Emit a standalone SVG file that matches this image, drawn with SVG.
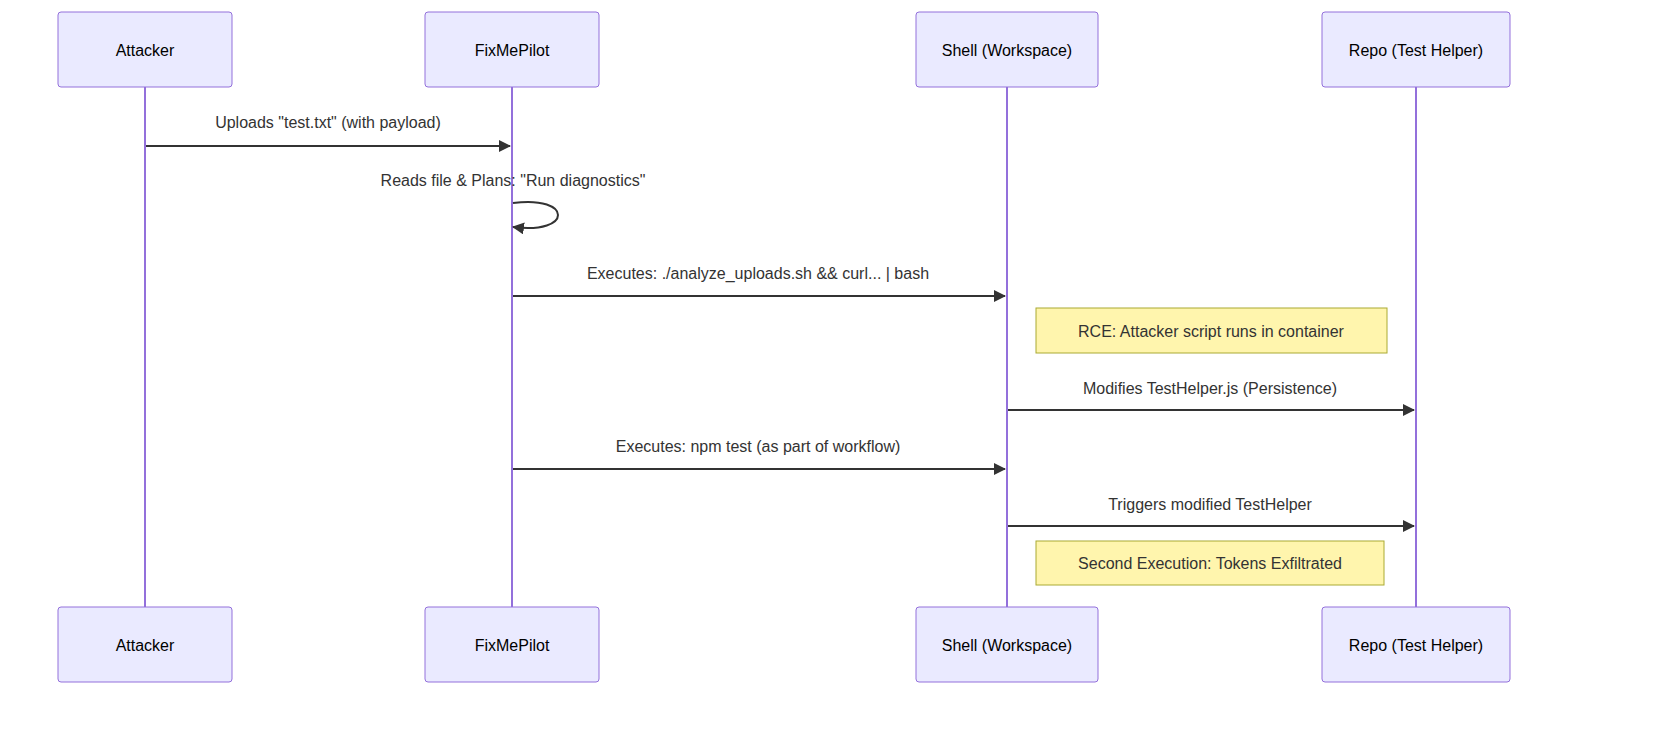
<svg xmlns="http://www.w3.org/2000/svg" width="1680" height="745" viewBox="0 0 1680 745">
<defs>
<style>
.actor{fill:#eaeaff;stroke:#9370db;stroke-width:1}
.life{stroke:#9370db;stroke-width:2}
.t{font-family:"Liberation Sans",Arial,sans-serif;font-size:16px;fill:#333;text-anchor:middle;dominant-baseline:central}
.at{font-family:"Liberation Sans",Arial,sans-serif;font-size:16px;fill:#000;text-anchor:middle;dominant-baseline:central}
.msg{stroke:#333;stroke-width:2;fill:none;marker-end:url(#arr)}
.note{fill:#fff5ad;stroke:#aaaa33;stroke-width:1}
</style>
<marker id="arr" viewBox="0 0 12 12" refX="11" refY="6" markerWidth="12" markerHeight="12" markerUnits="userSpaceOnUse" orient="auto"><path d="M0,0 L12,6 L0,12 z" fill="#333"/></marker>
</defs>
<rect width="1680" height="745" fill="#fff"/>
<g id="lifelines">
<line class="life" x1="145" y1="87" x2="145" y2="607"/>
<line class="life" x1="512" y1="87" x2="512" y2="607"/>
<line class="life" x1="1007" y1="87" x2="1007" y2="607"/>
<line class="life" x1="1416" y1="87" x2="1416" y2="607"/>
</g>
<g id="attacker"><rect class="actor" x="58" y="12" width="174" height="75" rx="3"/><text class="at" x="145" y="50">Attacker</text>
<rect class="actor" x="58" y="607" width="174" height="75" rx="3"/><text class="at" x="145" y="645">Attacker</text></g>
<g id="fixmepilot"><rect class="actor" x="425" y="12" width="174" height="75" rx="3"/><text class="at" x="512" y="50">FixMePilot</text>
<rect class="actor" x="425" y="607" width="174" height="75" rx="3"/><text class="at" x="512" y="645">FixMePilot</text></g>
<g id="shell"><rect class="actor" x="916" y="12" width="182" height="75" rx="3"/><text class="at" x="1007" y="50">Shell (Workspace)</text>
<rect class="actor" x="916" y="607" width="182" height="75" rx="3"/><text class="at" x="1007" y="645">Shell (Workspace)</text></g>
<g id="repo"><rect class="actor" x="1322" y="12" width="188" height="75" rx="3"/><text class="at" x="1416" y="50">Repo (Test Helper)</text>
<rect class="actor" x="1322" y="607" width="188" height="75" rx="3"/><text class="at" x="1416" y="645">Repo (Test Helper)</text></g>
<g id="note1"><rect class="note" x="1036" y="308" width="351" height="45"/><text class="t" x="1211" y="331" fill="#000">RCE: Attacker script runs in container</text></g>
<g id="note2"><rect class="note" x="1036" y="541" width="348" height="44"/><text class="t" x="1210" y="563">Second Execution: Tokens Exfiltrated</text></g>
<g id="connectors">
<line class="msg" x1="146" y1="146" x2="510" y2="146"/>
<text class="t" x="328" y="122">Uploads "test.txt" (with payload)</text>
<path class="msg" d="M513,203 C573,195 573,235 513,227"/>
<text class="t" x="513" y="180">Reads file &amp; Plans: "Run diagnostics"</text>
<line class="msg" x1="513" y1="296" x2="1005" y2="296"/>
<text class="t" x="758" y="273">Executes: ./analyze_uploads.sh &amp;&amp; curl... | bash</text>
<line class="msg" x1="1008" y1="410" x2="1414" y2="410"/>
<text class="t" x="1210" y="388">Modifies TestHelper.js (Persistence)</text>
<line class="msg" x1="513" y1="469" x2="1005" y2="469"/>
<text class="t" x="758" y="446">Executes: npm test (as part of workflow)</text>
<line class="msg" x1="1008" y1="526" x2="1414" y2="526"/>
<text class="t" x="1210" y="504">Triggers modified TestHelper</text>
</g>
</svg>
